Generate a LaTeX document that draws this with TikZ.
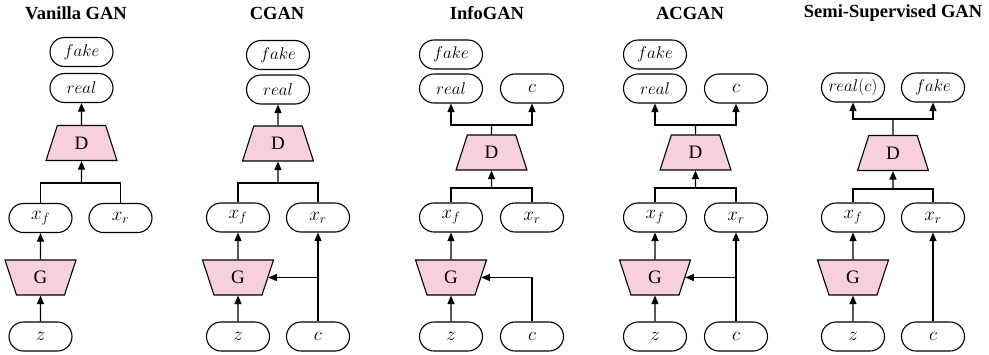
\RequirePackage{fix-cm}
\documentclass[tikz,border=0pt]{standalone}
\usepackage{fontspec}
\setmainfont{Liberation Serif}
\usetikzlibrary{shapes.geometric,arrows.meta}
\definecolor{pinkfill}{RGB}{248,208,220}
\begin{document}
\begin{tikzpicture}[x=1pt,y=-1pt,
 box/.style={draw, rounded corners=14.5pt, minimum width=63pt, minimum height=29pt, inner sep=0pt, line width=1.1pt, font=\fontsize{17}{19}\selectfont},
 xbox/.style={box, font=\fontsize{19}{21}\selectfont},
 netD/.style={trapezium, draw, fill=pinkfill, trapezium angle=75.6, trapezium stretches=true, minimum width=71pt, minimum height=35pt, inner sep=0pt, line width=1.1pt, font=\fontsize{19}{21}\selectfont},
 netG/.style={netD, shape border rotate=180},
 title/.style={font=\fontsize{18.5}{20}\selectfont\bfseries},
 arr/.style={-{Triangle[length=8.5pt,width=7pt]}, line width=1.1pt},
 ln/.style={line width=1.1pt}]
\useasboundingbox (0,0) rectangle (989,354);

% ---------- Vanilla GAN ----------
\node[title] (a-title) at (76,13) {Vanilla GAN};
\node[box] (a-fake) at (81.5,52) {$fake$};
\node[box] (a-real) at (81.5,88) {$real$};
\node[netD] (a-D) at (81.5,143) {D};
\coordinate (a-bus) at (81.5,183);
\node[xbox] (a-xf) at (40.5,218) {$x_f$};
\node[xbox] (a-xr) at (120.5,218) {$x_r$};
\node[netG] (a-G) at (40.5,277.5) {G};
\node[xbox] (a-z) at (40.5,336.5) {$z$};
\draw[arr] (a-D.north) -- (a-real.south);
\draw[ln] (a-xf.north) |- (a-bus) -| (a-xr.north);
\draw[arr] (a-bus) -- (a-D.south);
\draw[arr] (a-G.north) -- (a-xf.south);
\draw[arr] (a-z.north) -- (a-G.south);

% ---------- CGAN ----------
\node[title] (b-title) at (277,13) {CGAN};
\node[box] (b-fake) at (278,55) {$fake$};
\node[box] (b-real) at (278,89.5) {$real$};
\node[netD] (b-D) at (278,143.5) {D};
\coordinate (b-bus) at (278,183);
\node[xbox] (b-xf) at (238,217.5) {$x_f$};
\node[xbox] (b-xr) at (318,217.5) {$x_r$};
\node[netG] (b-G) at (238,277.5) {G};
\node[xbox] (b-z) at (238,336.5) {$z$};
\node[xbox] (b-c) at (318,336.5) {$c$};
\draw[arr] (b-D.north) -- (b-real.south);
\draw[ln] (b-xf.north) |- (b-bus) -| (b-xr.north);
\draw[arr] (b-bus) -- (b-D.south);
\draw[arr] (b-G.north) -- (b-xf.south);
\draw[arr] (b-z.north) -- (b-G.south);
\draw[arr] (b-c.north) -- (b-xr.south);
\draw[arr] (b-c.north |- b-G.east) -- (b-G.east);

% ---------- InfoGAN ----------
\node[title] (c-title) at (487,13) {InfoGAN};
\node[box] (c-fake) at (451,54.5) {$fake$};
\node[box] (c-real) at (451,88.5) {$real$};
\node[xbox] (c-cout) at (532,88.5) {$c$};
\coordinate (c-top) at (491.5,125);
\node[netD] (c-D) at (491.5,152.5) {D};
\coordinate (c-bus) at (491.5,188);
\node[xbox] (c-xf) at (451,217.5) {$x_f$};
\node[xbox] (c-xr) at (532,217.5) {$x_r$};
\node[netG] (c-G) at (451,277.5) {G};
\node[xbox] (c-z) at (451,336.5) {$z$};
\node[xbox] (c-c) at (532,336.5) {$c$};
\draw[ln] (c-D.north) -- (c-top);
\draw[arr] (c-top) -| (c-real.south);
\draw[arr] (c-top) -| (c-cout.south);
\draw[ln] (c-xf.north) |- (c-bus) -| (c-xr.north);
\draw[arr] (c-bus) -- (c-D.south);
\draw[arr] (c-G.north) -- (c-xf.south);
\draw[arr] (c-z.north) -- (c-G.south);
\draw[arr] (c-c.north) |- (c-G.east);

% ---------- ACGAN ----------
\node[title] (d-title) at (690,13) {ACGAN};
\node[box] (d-fake) at (655,54.5) {$fake$};
\node[box] (d-real) at (655,88.5) {$real$};
\node[xbox] (d-cout) at (736,88.5) {$c$};
\coordinate (d-top) at (695.5,125);
\node[netD] (d-D) at (695.5,152.5) {D};
\coordinate (d-bus) at (695.5,188);
\node[xbox] (d-xf) at (655,217.5) {$x_f$};
\node[xbox] (d-xr) at (736,217.5) {$x_r$};
\node[netG] (d-G) at (655,277.5) {G};
\node[xbox] (d-z) at (655,336.5) {$z$};
\node[xbox] (d-c) at (736,336.5) {$c$};
\draw[ln] (d-D.north) -- (d-top);
\draw[arr] (d-top) -| (d-real.south);
\draw[arr] (d-top) -| (d-cout.south);
\draw[ln] (d-xf.north) |- (d-bus) -| (d-xr.north);
\draw[arr] (d-bus) -- (d-D.south);
\draw[arr] (d-G.north) -- (d-xf.south);
\draw[arr] (d-z.north) -- (d-G.south);
\draw[arr] (d-c.north) -- (d-xr.south);
\draw[arr] (d-c.north |- d-G.east) -- (d-G.east);

% ---------- Semi-Supervised GAN ----------
\node[title] (e-title) at (893,13) {Semi-Supervised GAN};
\node[box] (e-realc) at (853,87.5) {$real(c)$};
\node[box] (e-fake) at (933,87.5) {$fake$};
\coordinate (e-top) at (893,119);
\node[netD] (e-D) at (893,153) {D};
\coordinate (e-bus) at (893,189);
\node[xbox] (e-xf) at (853,217.5) {$x_f$};
\node[xbox] (e-xr) at (933,217.5) {$x_r$};
\node[netG] (e-G) at (853,277.5) {G};
\node[xbox] (e-z) at (853,336.5) {$z$};
\node[xbox] (e-c) at (933,336.5) {$c$};
\draw[ln] (e-D.north) -- (e-top);
\draw[arr] (e-top) -| (e-realc.south);
\draw[arr] (e-top) -| (e-fake.south);
\draw[ln] (e-xf.north) |- (e-bus) -| (e-xr.north);
\draw[arr] (e-bus) -- (e-D.south);
\draw[arr] (e-G.north) -- (e-xf.south);
\draw[arr] (e-z.north) -- (e-G.south);
\draw[arr] (e-c.north) -- (e-xr.south);
\end{tikzpicture}
\end{document}
